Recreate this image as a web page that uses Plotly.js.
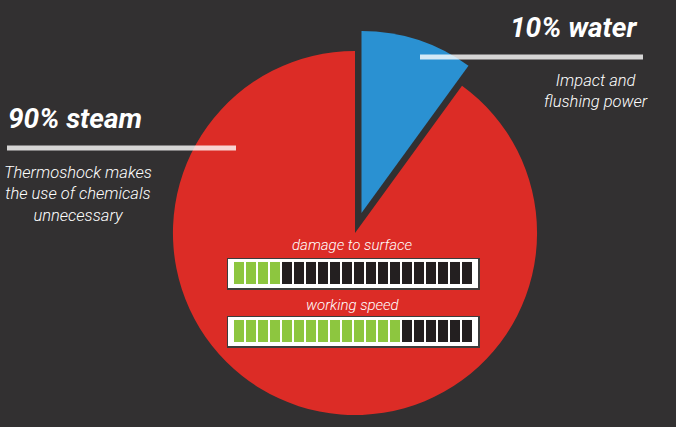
<!DOCTYPE html>
<html>
<head>
<meta charset="utf-8">
<script src="https://cdn.plot.ly/plotly-3.0.1.min.js"></script>
<style>
  html, body { margin: 0; padding: 0; background: #323031; overflow: hidden; }
  #wrap { position: relative; width: 676px; height: 440px; }
  #chart, #gauges { position: absolute; left: 0; top: 0; width: 676px; height: 440px; }
</style>
</head>
<body>
<div id="wrap"><div id="chart"></div><div id="gauges"></div></div>
<script>
// ---- data ----
const sliceLabels = ['water', 'steam'];
const slicePercents = [10, 90];
const sliceDescriptions = ['Impact and<br>flushing power', 'Thermoshock makes<br>the use of chemicals<br>unnecessary'];
const gaugeNames = ['damage to surface', 'working speed'];
const gaugeLevels = [4, 14];
const gaugeCells = 20;

// ---- style ----
const W = 676, H = 440;
const BG = '#323031';
const sliceColors = ['#2A91D2', '#DC2C26'];
const cellOn = '#8DC63F', cellOff = '#231F20';
const headFont = "Roboto, 'Liberation Sans', sans-serif";
const px = v => v / W;
const py = v => 1 - v / H;

// ---- pie ----
const pieTrace = {
  type: 'pie',
  labels: sliceLabels,
  values: slicePercents,
  marker: { colors: sliceColors, line: { width: 0 } },
  pull: [0.115, 0],
  sort: false,
  direction: 'clockwise',
  rotation: 0,
  textinfo: 'none',
  hoverinfo: 'none',
  showlegend: false,
  domain: { x: [px(152), px(558)], y: [py(436), py(30)] }
};

const annotations = [
  { text: `<b>${slicePercents[0]}% ${sliceLabels[0]}</b>`, x: px(639), y: py(27), xanchor: 'right', yanchor: 'middle',
    font: { family: headFont, size: 28, color: '#ffffff', style: 'italic', weight: 700 } },
  { text: `<b>${slicePercents[1]}% ${sliceLabels[1]}</b>`, x: px(6), y: py(118), xanchor: 'left', yanchor: 'middle',
    font: { family: headFont, size: 28, color: '#ffffff', style: 'italic', weight: 700 } },
  { text: sliceDescriptions[0], x: px(596), y: py(91), xanchor: 'center', yanchor: 'middle', align: 'center',
    font: { family: headFont, size: 16.5, color: '#ffffff', style: 'italic', weight: 300 } },
  { text: sliceDescriptions[1], x: px(78), y: py(194), xanchor: 'center', yanchor: 'middle', align: 'center',
    font: { family: headFont, size: 16.5, color: '#ffffff', style: 'italic', weight: 300 } },
  { text: gaugeNames[0], x: px(352), y: py(245), xanchor: 'center', yanchor: 'middle',
    font: { family: headFont, size: 15, color: '#ffffff', style: 'italic', weight: 300 } },
  { text: gaugeNames[1], x: px(353), y: py(305), xanchor: 'center', yanchor: 'middle',
    font: { family: headFont, size: 15, color: '#ffffff', style: 'italic', weight: 300 } }
].map(a => Object.assign({ xref: 'paper', yref: 'paper', showarrow: false }, a));

const shapes = [
  { type: 'line', xref: 'paper', yref: 'paper', x0: px(420), x1: px(643), y0: py(57), y1: py(57),
    line: { color: 'rgba(255,255,255,0.8)', width: 5 } },
  { type: 'line', xref: 'paper', yref: 'paper', x0: px(7), x1: px(236), y0: py(148), y1: py(148),
    line: { color: 'rgba(255,255,255,0.8)', width: 5 } }
];

Plotly.newPlot('chart', [pieTrace], {
  width: W, height: H,
  margin: { l: 0, r: 0, t: 0, b: 0 },
  paper_bgcolor: BG,
  showlegend: false,
  annotations: annotations,
  shapes: shapes
}, { displayModeBar: false, staticPlot: true });

// ---- gauges (overlay) ----
const gaugeFrames = [[259, 288], [317, 346]];
const gaugeTraces = [];
const gaugeLayout = {
  width: W, height: H,
  margin: { l: 0, r: 0, t: 0, b: 0 },
  paper_bgcolor: 'rgba(0,0,0,0)', plot_bgcolor: '#ffffff',
  showlegend: false
};
gaugeNames.forEach((name, g) => {
  const idx = g === 0 ? '' : String(g + 1);
  const xs = [], zrow = [];
  for (let i = 0; i < gaugeCells; i++) { xs.push(i); zrow.push(i < gaugeLevels[g] ? 1 : 0); }
  gaugeTraces.push({
    type: 'heatmap',
    x: xs, y: [0], z: [zrow],
    xaxis: 'x' + idx, yaxis: 'y' + idx,
    colorscale: [[0, cellOff], [1, cellOn]],
    zmin: 0, zmax: 1, showscale: false, xgap: 2, ygap: 0,
    hoverinfo: 'none'
  });
  const axCommon = { showgrid: false, zeroline: false, showticklabels: false, ticks: '',
                     showline: true, mirror: true, linecolor: '#3c3c3c', linewidth: 1.5, fixedrange: true };
  gaugeLayout['xaxis' + idx] = Object.assign({}, axCommon, {
    domain: [px(228), px(478)], range: [-0.9167, gaugeCells - 0.5 + 0.4167], anchor: 'y' + idx
  });
  gaugeLayout['yaxis' + idx] = Object.assign({}, axCommon, {
    domain: [py(gaugeFrames[g][1]), py(gaugeFrames[g][0])], range: [-0.682, 0.636], anchor: 'x' + idx
  });
});

Plotly.newPlot('gauges', gaugeTraces, gaugeLayout, { displayModeBar: false, staticPlot: true });
</script>
</body>
</html>
